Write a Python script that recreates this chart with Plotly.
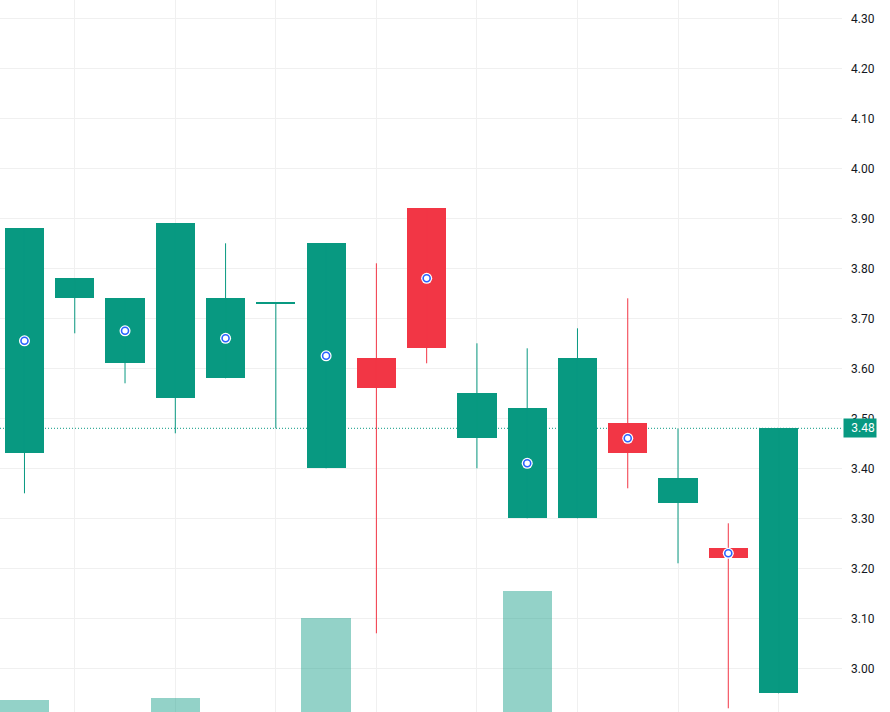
import plotly.graph_objects as go

# ---- data ----
bar_index = list(range(16))
opens  = [3.43, 3.74, 3.61, 3.54, 3.58, 3.73, 3.40, 3.62, 3.92, 3.46, 3.30, 3.30, 3.49, 3.33, 3.24, 2.95]
highs  = [3.88, 3.78, 3.74, 3.89, 3.85, 3.73, 3.85, 3.81, 3.92, 3.65, 3.64, 3.68, 3.74, 3.48, 3.29, 3.48]
lows   = [3.35, 3.67, 3.57, 3.47, 3.58, 3.48, 3.40, 3.07, 3.61, 3.40, 3.30, 3.30, 3.36, 3.21, 2.92, 2.95]
closes = [3.88, 3.78, 3.74, 3.89, 3.74, 3.73, 3.85, 3.56, 3.64, 3.55, 3.52, 3.62, 3.43, 3.38, 3.22, 3.48]
volumes = [1.2, 0, 0, 1.4, 0, 0, 9.4, 0, 0, 0, 12.1, 0, 0, 0, 0, 0]  # millions
marker_bars = [0, 2, 4, 6, 8, 10, 12, 14]
marker_vals = [3.655, 3.675, 3.66, 3.625, 3.78, 3.41, 3.46, 3.23]
last_price = 3.48
price_ticks = [3.00, 3.10, 3.20, 3.30, 3.40, 3.50, 3.60, 3.70, 3.80, 3.90, 4.00, 4.10, 4.20, 4.30]

UP = "#089981"
DOWN = "#F23645"
VOL = "rgba(8,153,129,0.44)"
MIN_BODY = 0.002

colors = [UP if c >= o else DOWN for o, c in zip(opens, closes)]
body_base = [min(o, c) for o, c in zip(opens, closes)]
body_h = [max(abs(c - o), MIN_BODY) for o, c in zip(opens, closes)]

fig = go.Figure()

# volume (secondary axis, underneath)
fig.add_trace(go.Bar(x=bar_index, y=volumes, width=0.98, marker=dict(color=VOL, line=dict(width=0)),
                     yaxis="y2", hoverinfo="skip", showlegend=False))

# wicks
for col in (UP, DOWN):
    wx, wy = [], []
    for i, c in zip(bar_index, colors):
        if c == col:
            wx += [i, i, None]
            wy += [lows[i], highs[i], None]
    fig.add_trace(go.Scatter(x=wx, y=wy, mode="lines", line=dict(color=col, width=1),
                             hoverinfo="skip", showlegend=False))

# bodies
fig.add_trace(go.Bar(x=bar_index, y=body_h, base=body_base, width=0.78,
                     marker=dict(color=colors, line=dict(width=0)), showlegend=False))

# markers
fig.add_trace(go.Scatter(x=marker_bars, y=marker_vals, mode="markers",
                         marker=dict(symbol="circle", size=11, color="white", line=dict(width=0)),
                         hoverinfo="skip", showlegend=False))
fig.add_trace(go.Scatter(x=marker_bars, y=marker_vals, mode="markers",
                         marker=dict(symbol="circle", size=7, color="white", line=dict(color="#2962FF", width=1.6)),
                         hoverinfo="skip", showlegend=False))

# last price line
fig.add_shape(type="line", xref="paper", x0=0, x1=1, yref="y", y0=last_price, y1=last_price,
              line=dict(color=UP, width=1, dash="1px,2px"), layer="below")
fig.add_annotation(xref="paper", x=1, xanchor="left", xshift=1, yref="y", y=last_price, yanchor="middle",
                   text="%.2f" % last_price, showarrow=False, bgcolor=UP,
                   font=dict(color="white", size=12, family="Roboto"),
                   width=30, height=16, borderpad=1, align="right")

fig.update_layout(
    width=890, height=712,
    margin=dict(l=0, r=48, t=0, b=0),
    paper_bgcolor="white", plot_bgcolor="white",
    barmode="overlay", bargap=0,
    showlegend=False,
    font=dict(family="Roboto", size=12, color="#131722"),
    xaxis=dict(range=[-0.487, 16.262], showticklabels=False, ticks="", tick0=1, dtick=2,
               showgrid=True, gridcolor="#F0F0F0", gridwidth=1, zeroline=False, showline=False),
    yaxis=dict(side="right", range=[2.9126, 4.3366], tickvals=price_ticks,
               ticktext=["%.2f" % v for v in price_ticks], ticks="", ticklabelstandoff=8,
               showgrid=True, gridcolor="#F0F0F0", gridwidth=1, zeroline=False, showline=False,
               tickfont=dict(size=12, color="#131722")),
    yaxis2=dict(overlaying="y", range=[0, 71.2], visible=False, showgrid=False, zeroline=False),
)

fig.write_html("out.html", config={"displayModeBar": False},
               post_script="document.body.style.margin='0';")
